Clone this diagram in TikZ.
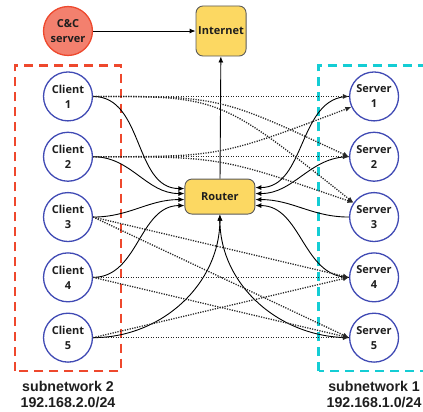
\documentclass[tikz,border=0pt]{standalone}
\usepackage{fontspec}
\setmainfont{Open Sans}
\newfontfamily\lblfont{Liberation Sans}
\usetikzlibrary{arrows.meta}
\definecolor{nw_red}{RGB}{238, 72, 45}
\definecolor{nw_salmon}{RGB}{243, 128, 110}
\definecolor{nw_yellow}{RGB}{252, 216, 98}
\definecolor{nw_blue}{RGB}{64, 74, 180}
\definecolor{nw_cyan}{RGB}{20, 205, 212}
\definecolor{nw_grey}{RGB}{90, 90, 90}
\definecolor{nw_text}{RGB}{30, 30, 30}
\tikzstyle{hn}=[circle,fill=white,draw=nw_blue,line width=1.3pt,inner sep=0pt,
  minimum size=1.72cm,align=center,text=nw_text,font=\fontsize{11}{15}\selectfont\bfseries]
\tikzstyle{cn}=[circle,fill=nw_salmon,draw=nw_red,line width=1.3pt,inner sep=0pt,
  minimum size=1.72cm,align=center,text=nw_text,font=\fontsize{11}{15}\selectfont\bfseries]
\tikzstyle{yn}=[rectangle,rounded corners=7pt,fill=nw_yellow,draw=nw_grey,line width=0.9pt,
  inner sep=0pt,align=center,text=nw_text,font=\fontsize{11}{15}\selectfont\bfseries]
\tikzstyle{ln}=[-{Latex[length=6pt,width=5pt]},line width=0.9pt]
\tikzstyle{dl}=[-{Latex[length=6pt,width=5pt]},line width=1.3pt,
  dash pattern=on 1.2pt off 1.3pt,draw=black!85]
\tikzstyle{lbl}=[align=center,text=nw_text,font=\lblfont\fontsize{14.2}{16.3}\selectfont\bfseries]

\begin{document}
\begin{tikzpicture}
    \useasboundingbox (0,0) rectangle (14.87,14.48);
    % subnetworks
    \draw [nw_red,line width=2.4pt,dash pattern=on 9pt off 6pt] (0.53,1.43) rectangle (4.25,12.18);
    \draw [nw_cyan,line width=2.4pt,dash pattern=on 9pt off 6pt] (11.20,1.43) rectangle (15.30,12.18);
    \node [style=lbl] (net2) at (2.39,0.60) {subnetwork 2\\192.168.2.0/24};
    \node [style=lbl] (net1) at (13.15,0.60) {subnetwork 1\\192.168.1.0/24};

    \node [style=cn] (cc) at (2.39,13.39) {C\&C\\server};
    \node [style=yn,minimum width=1.76cm,minimum height=1.76cm] (internet) at (7.77,13.39) {Internet};
    \node [style=yn,minimum width=2.46cm,minimum height=1.23cm] (router) at (7.73,7.57) {Router};

    \node [style=hn] (c1) at (2.39,11.09) {Client\\1};
    \node [style=hn] (c2) at (2.39,8.97) {Client\\2};
    \node [style=hn] (c3) at (2.39,6.85) {Client\\3};
    \node [style=hn] (c4) at (2.39,4.73) {Client\\4};
    \node [style=hn] (c5) at (2.39,2.61) {Client\\5};
    \node [style=hn] (s1) at (13.15,11.09) {Server\\1};
    \node [style=hn] (s2) at (13.15,8.97) {Server\\2};
    \node [style=hn] (s3) at (13.15,6.85) {Server\\3};
    \node [style=hn] (s4) at (13.15,4.73) {Server\\4};
    \node [style=hn] (s5) at (13.15,2.61) {Server\\5};

    \draw [style=ln] (cc) to (internet);
    \draw [style=ln] (router) to (internet);

    % hosts to the router
    \draw [style=ln] (c1.east) to[out=0,in=180] ([yshift=8pt]router.west);
    \draw [style=ln] (c2.east) to[out=0,in=180] ([yshift=3pt]router.west);
    \draw [style=ln] (c3.east) to[out=0,in=180] ([yshift=-3pt]router.west);
    \draw [style=ln] (c4.east) to[out=0,in=180] ([yshift=-9pt]router.west);
    \draw [style=ln] (c5.east) to[out=0,in=-90] (router.south);
    \draw [style=ln] (s1.west) to[out=180,in=0] ([yshift=9pt]router.east);
    \draw [style=ln] (s2.west) to[out=180,in=0] ([yshift=3pt]router.east);
    \draw [style=ln] (s3.west) to[out=180,in=0] ([yshift=-3pt]router.east);
    \draw [style=ln] (s4.west) to[out=180,in=0] ([yshift=-9pt]router.east);
    \draw [style=ln] (s5.west) to[out=180,in=-90] (router.south);

    % clients to servers
    \draw [style=dl] (c1.east) to (s1.west);
    \draw [style=dl] (c1.east) .. controls (router |- c1) .. (s2.west);
    \draw [style=dl] (c1.east) .. controls (router |- c1) .. (s3.145);
    \draw [style=dl] (c2.east) .. controls (router |- c2) .. (s1.205);
    \draw [style=dl] (c2.east) to (s2.west);
    \draw [style=dl] (c2.east) .. controls (router |- c2) .. (s3.145);
    \draw [style=dl] (c3.east) to (s4.west);
    \draw [style=dl] (c3.east) to (s5.west);
    \draw [style=dl] (c4.east) to (s4.west);
    \draw [style=dl] (c4.east) to (s5.west);
    \draw [style=dl] (c5.east) to (s4.west);
    \draw [style=dl] (c5.east) to (s5.west);
  \end{tikzpicture}
\end{document}
